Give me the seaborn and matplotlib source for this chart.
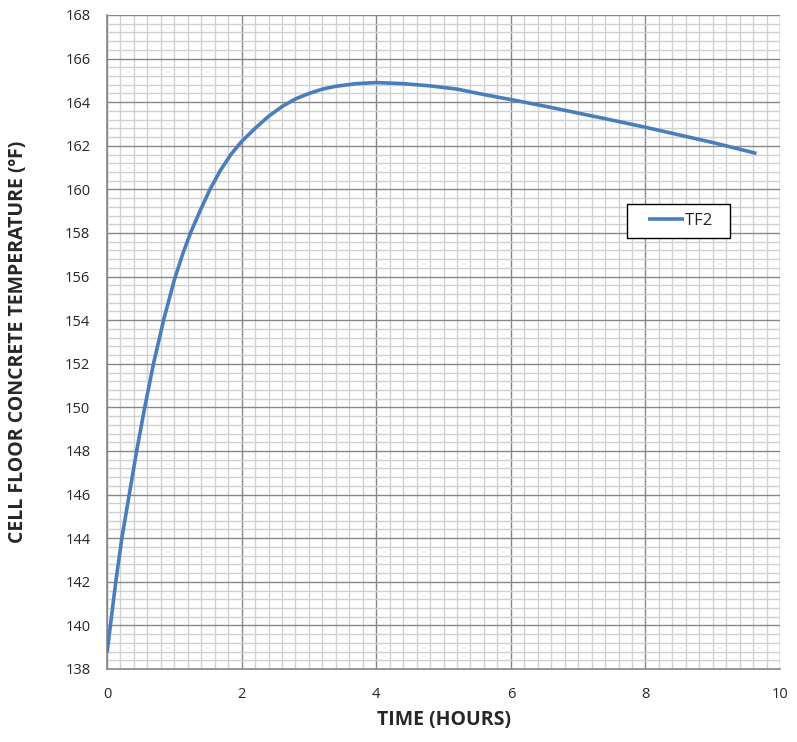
import matplotlib
matplotlib.use("Agg")
import matplotlib.pyplot as plt
import seaborn as sns
import pandas as pd
from matplotlib.ticker import MultipleLocator
from matplotlib.legend_handler import HandlerLine2D

time_hours = [0, 0.05, 0.13, 0.22, 0.33, 0.44, 0.56, 0.69, 0.84, 1.0, 1.12, 1.24, 1.38, 1.53, 1.68, 1.84,
              2.0, 2.2, 2.4, 2.6, 2.8, 3.0, 3.2, 3.4, 3.7, 4.0, 4.4, 4.8, 5.2, 5.6, 6.0, 6.5, 7.0, 7.5,
              8.0, 8.5, 9.0, 9.65]
tf2 = [138.75, 140.0, 142.0, 144.0, 146.0, 148.0, 150.0, 152.0, 154.0, 155.85, 157.0, 158.0, 159.0, 160.0, 160.85, 161.6,
       162.2, 162.8, 163.35, 163.8, 164.15, 164.4, 164.6, 164.73, 164.85, 164.9, 164.85, 164.75, 164.6, 164.35, 164.12, 163.82, 163.5, 163.18,
       162.85, 162.5, 162.15, 161.65]

sns.set_style("white")
plt.rcParams['font.family'] = ['Open Sans', 'DejaVu Sans']

df = pd.DataFrame({"TIME (HOURS)": time_hours, "TF2": tf2})

fig = plt.figure(figsize=(7.97, 7.42), dpi=100)
ax = fig.add_axes([0.1343, 0.0984, 0.8444, 0.8814])
sns.lineplot(data=df, x="TIME (HOURS)", y="TF2", ax=ax, color="#4A7EBB", linewidth=2.6,
             label="TF2  ", zorder=5, solid_joinstyle="round", solid_capstyle="butt")

ax.set_xlim(0, 10)
ax.set_ylim(138, 168)
ax.xaxis.set_major_locator(MultipleLocator(2))
ax.xaxis.set_minor_locator(MultipleLocator(0.2))
ax.yaxis.set_major_locator(MultipleLocator(2))
ax.yaxis.set_minor_locator(MultipleLocator(0.4))
ax.grid(which="major", color="#878787", linewidth=1.0, zorder=1)
ax.grid(which="minor", color="#D0D0D0", linewidth=1.0, zorder=0)
ax.set_axisbelow(True)
for s in ["top", "right"]:
    ax.spines[s].set_visible(False)
for s in ["left", "bottom"]:
    ax.spines[s].set_color("#878787")
    ax.spines[s].set_linewidth(1.2)
ax.tick_params(which="major", direction="out", length=5, color="#878787", labelsize=10.5)
ax.tick_params(axis="x", which="major", pad=8)
ax.tick_params(axis="y", which="major", pad=7)
ax.tick_params(which="minor", length=0)
ax.set_xlabel("TIME (HOURS)", fontsize=14, fontweight="bold")
ax.set_ylabel("CELL FLOOR CONCRETE TEMPERATURE (ºF)", fontsize=14, fontweight="bold")
ax.xaxis.set_label_coords(0.5, -0.062)
ax.yaxis.set_label_coords(-0.118, 0.5)

handles, labels = ax.get_legend_handles_labels()
leg = ax.legend(handles, labels, loc="upper left", bbox_to_anchor=(0.7727, 0.711), borderaxespad=0,
                frameon=True, fancybox=False, edgecolor="black", fontsize=12,
                handlelength=2.875, borderpad=0.53, handletextpad=0.1,
                handler_map={handles[0]: HandlerLine2D(xpad=0.75)})
leg.get_frame().set_linewidth(1.0)
leg.get_frame().set_facecolor("white")
leg.get_frame().set_alpha(1)

fig.savefig("out.png", dpi=100)
